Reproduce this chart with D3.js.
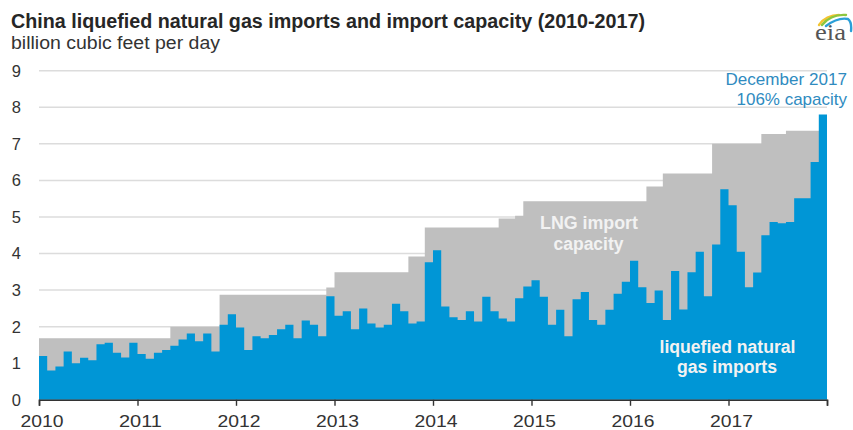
<!DOCTYPE html>
<html>
<head>
<meta charset="utf-8">
<script src="https://cdn.jsdelivr.net/npm/d3@7"></script>
<style>
  html, body { margin: 0; padding: 0; background: #fff; }
  svg { display: block; font-family: "Liberation Sans", Arial, sans-serif; }
</style>
</head>
<body>
<svg id="chart" width="853" height="430"></svg>
<script>
// Monthly China LNG imports, Jan 2010 - Dec 2017 (billion cubic feet per day)
const imports = [
  1.20, 0.80, 0.91, 1.32, 1.00, 1.15, 1.08, 1.52, 1.56, 1.29, 1.16, 1.56,
  1.25, 1.12, 1.29, 1.36, 1.48, 1.65, 1.81, 1.60, 1.81, 1.32, 2.05, 2.34,
  1.98, 1.36, 1.74, 1.68, 1.77, 1.93, 2.05, 1.68, 2.17, 2.05, 1.74, 2.83,
  2.30, 2.42, 1.93, 2.50, 2.09, 1.98, 2.05, 2.63, 2.42, 2.09, 2.14, 3.76,
  4.09, 2.55, 2.26, 2.18, 2.42, 2.14, 2.82, 2.42, 2.22, 2.14, 2.78, 3.10,
  3.27, 2.82, 2.05, 2.46, 1.74, 2.75, 2.95, 2.18, 2.05, 2.46, 2.90, 3.23,
  3.80, 3.08, 2.65, 2.99, 2.18, 3.52, 2.47, 3.49, 4.05, 2.83, 4.25, 5.76,
  5.32, 4.05, 3.08, 3.48, 4.50, 4.86, 4.83, 4.86, 5.51, 5.51, 6.50, 7.80
];

// Monthly LNG import capacity over the same months
const capacity = [
  1.68, 1.68, 1.68, 1.68, 1.68, 1.68, 1.68, 1.68, 1.68, 1.68, 1.68, 1.68,
  1.68, 1.68, 1.68, 1.68, 2.00, 2.00, 2.00, 2.00, 2.00, 2.00, 2.87, 2.87,
  2.87, 2.87, 2.87, 2.87, 2.87, 2.87, 2.87, 2.87, 2.87, 2.87, 2.87, 3.07,
  3.49, 3.49, 3.49, 3.49, 3.49, 3.49, 3.49, 3.49, 3.49, 3.92, 3.92, 4.71,
  4.71, 4.71, 4.71, 4.71, 4.71, 4.71, 4.71, 4.71, 4.96, 4.96, 5.03, 5.43,
  5.43, 5.43, 5.43, 5.43, 5.43, 5.43, 5.43, 5.43, 5.43, 5.43, 5.43, 5.43,
  5.43, 5.43, 5.83, 5.83, 6.19, 6.19, 6.19, 6.19, 6.19, 6.19, 7.00, 7.00,
  7.00, 7.00, 7.00, 7.00, 7.27, 7.27, 7.27, 7.36, 7.36, 7.36, 7.36, 7.36
];

const years = ["2010", "2011", "2012", "2013", "2014", "2015", "2016", "2017"];
const yTicks = [0, 1, 2, 3, 4, 5, 6, 7, 8, 9];

const svg = d3.select("#chart");
const font = "'Liberation Sans', Arial, sans-serif";

const x = d3.scaleLinear().domain([0, imports.length]).range([39, 827]);
const y = d3.scaleLinear().domain([0, 9]).range([399.8, 70.7]);

// Stretch a text element to a given drawn width
function fit(sel, w) { sel.attr("textLength", w).attr("lengthAdjust", "spacingAndGlyphs"); return sel; }

// Gridlines
svg.append("g")
  .selectAll("line")
  .data(yTicks.filter(d => d > 0))
  .join("line")
  .attr("x1", x(0)).attr("x2", x(imports.length))
  .attr("y1", d => y(d)).attr("y2", d => y(d))
  .attr("stroke", "#dcdcdc").attr("stroke-width", 1.5);

// Step areas: one point per month plus a closing point at the end of December 2017
const stepArea = series => d3.area()
  .curve(d3.curveStepAfter)
  .x((d, i) => x(i))
  .y0(y(0))
  .y1(d => y(d))(series.concat([series[series.length - 1]]));

svg.append("path").attr("d", stepArea(capacity)).attr("fill", "#bfbfbf");
svg.append("path").attr("d", stepArea(imports)).attr("fill", "#0096d6");

// Y axis labels
svg.append("g")
  .selectAll("text")
  .data(yTicks)
  .join("text")
  .attr("x", 21).attr("y", d => y(d))
  .attr("dy", "0.36em")
  .attr("text-anchor", "end")
  .attr("font-family", font).attr("font-size", 16.5)
  .attr("fill", "#333")
  .text(d => d);

// X axis with a tick at the start of each year
const xAxis = d3.axisBottom(x)
  .tickValues(d3.range(0, imports.length + 1, 12))
  .tickSize(6)
  .tickFormat(() => "");
const gx = svg.append("g").attr("transform", `translate(0,${y(0)})`).call(xAxis);
gx.select(".domain").attr("stroke", "#333").attr("stroke-width", 1.6);
gx.selectAll(".tick line").attr("stroke", "#333").attr("stroke-width", 1.4);

svg.append("g")
  .selectAll("text")
  .data(years)
  .join("text")
  .attr("x", (d, i) => x(i * 12) + 3)
  .attr("y", 427)
  .attr("text-anchor", "middle")
  .attr("font-family", font).attr("font-size", 17)
  .attr("fill", "#333")
  .text(d => d)
  .call(fit, 43);

// Title and unit
fit(svg.append("text").attr("x", 11).attr("y", 28)
  .attr("font-family", font).attr("font-size", 19.5).attr("font-weight", "bold")
  .attr("fill", "#262626")
  .text("China liquefied natural gas imports and import capacity (2010-2017)"), 634);
fit(svg.append("text").attr("x", 11).attr("y", 48.5)
  .attr("font-family", font).attr("font-size", 17.5)
  .attr("fill", "#333")
  .text("billion cubic feet per day"), 209);

// Series labels
const inLabel = (txt, cx, by, w) => fit(svg.append("text")
  .attr("x", cx).attr("y", by).attr("text-anchor", "middle")
  .attr("font-family", font).attr("font-size", 17.5).attr("font-weight", "bold")
  .attr("fill", "#f2f2f2").text(txt), w);
inLabel("LNG import", 589, 229, 98);
inLabel("capacity", 588.5, 250, 70);
inLabel("liquefied natural", 727.5, 353, 136);
inLabel("gas imports", 727, 373, 100);

// Latest-month note
const last = imports.length - 1;
const pct = Math.round(imports[last] / capacity[last] * 100);
fit(svg.append("text").attr("x", 847).attr("y", 85).attr("text-anchor", "end")
  .attr("font-family", font).attr("font-size", 17).attr("fill", "#2f8bbf")
  .text("December 2017"), 121.5);
fit(svg.append("text").attr("x", 847).attr("y", 105).attr("text-anchor", "end")
  .attr("font-family", font).attr("font-size", 17).attr("fill", "#2f8bbf")
  .text(`${pct}% capacity`), 110.5);

// eia mark
const logo = svg.append("g");
logo.append("path").attr("d", "M819,25 Q826,15 839,15").attr("fill", "none")
  .attr("stroke", "#f2c431").attr("stroke-width", 2.4).attr("stroke-linecap", "round");
logo.append("path").attr("d", "M822,25 Q831,14 846,15").attr("fill", "none")
  .attr("stroke", "#8cc63f").attr("stroke-width", 2.4).attr("stroke-linecap", "round");
logo.append("path").attr("d", "M826,26 Q838,17 848,19 Q852,22 851,31").attr("fill", "none")
  .attr("stroke", "#2a9fd8").attr("stroke-width", 2.4).attr("stroke-linecap", "round");
fit(logo.append("text").attr("x", 815).attr("y", 40)
  .attr("font-family", "'Liberation Serif', 'DejaVu Serif', serif").attr("font-size", 23)
  .attr("fill", "#555").text("eia"), 31);
</script>
</body>
</html>
